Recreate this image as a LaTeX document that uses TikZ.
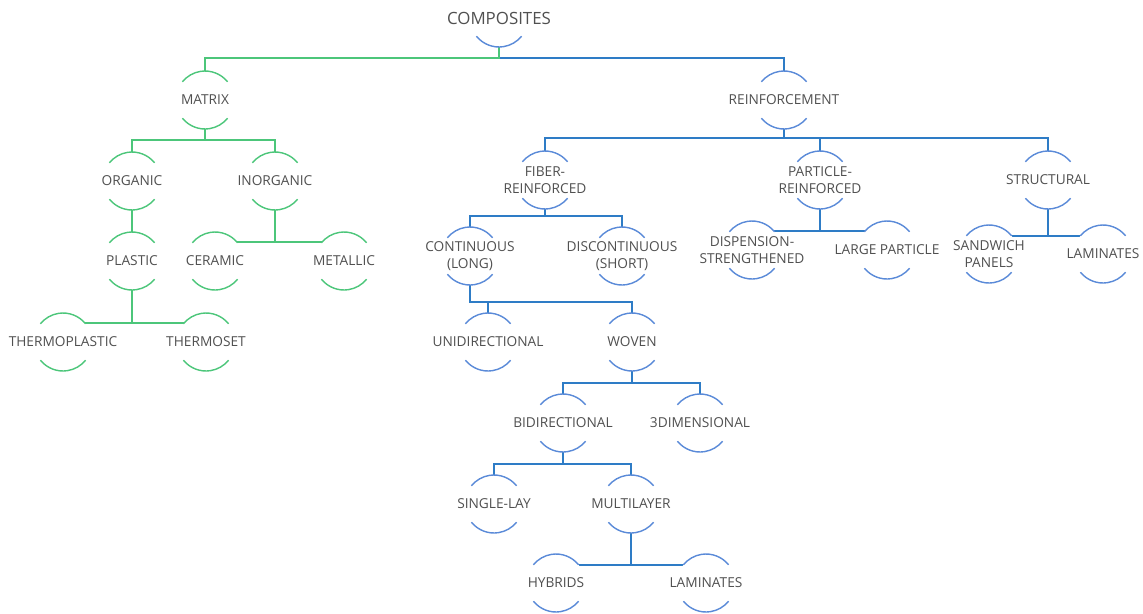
\documentclass[tikz,border=0pt]{standalone}
\usepackage{fontspec}
\setmainfont{Open Sans}
\usetikzlibrary{backgrounds}
\definecolor{mgreen}{HTML}{4CC67A}
\definecolor{rblue}{HTML}{2E7CC6}
\definecolor{arcblue}{HTML}{5A8AD8}
\definecolor{txtgray}{HTML}{505050}
\tikzset{
  bub/.style={circle, minimum size=1.16cm, inner sep=0pt, outer sep=0pt, fill=white},
  every label/.style={text=txtgray, font=\fontsize{7.8}{9.6}\selectfont, align=center, inner sep=0pt},
  gline/.style={draw=mgreen, line width=0.8pt},
  bline/.style={draw=rblue, line width=0.8pt},
  garc/.style={mgreen, line width=0.8pt},
  barc/.style={arcblue, line width=0.8pt},
}
\begin{document}
\begin{tikzpicture}[x=0.02cm, y=-0.02cm]
  \useasboundingbox (0,0) rectangle (1143,613);
  % root
  \node[bub, label={[font=\fontsize{9.6}{11}\selectfont]center:COMPOSITES}] (comp) at (499,18) {};
  % matrix side
  \node[bub, label=center:MATRIX] (matrix) at (205,100) {};
  \node[bub, label=center:ORGANIC] (organic) at (132,181) {};
  \node[bub, label=center:INORGANIC] (inorganic) at (275,181) {};
  \node[bub, label=center:PLASTIC] (plastic) at (132,261) {};
  \node[bub, label=center:CERAMIC] (ceramic) at (215,261) {};
  \node[bub, label=center:METALLIC] (metallic) at (344,261) {};
  \node[bub, label=center:THERMOPLASTIC] (thermoplastic) at (63,342) {};
  \node[bub, label=center:THERMOSET] (thermoset) at (206,342) {};
  % reinforcement side
  \node[bub, label=center:REINFORCEMENT] (reinf) at (784,100) {};
  \node[bub, label={center:FIBER-\\REINFORCED}] (fiber) at (545,180) {};
  \node[bub, label={center:PARTICLE-\\REINFORCED}] (particle) at (820,180) {};
  \node[bub, label=center:STRUCTURAL] (structural) at (1048,180) {};
  \node[bub, label={center:CONTINUOUS\\(LONG)}] (cont) at (470,256) {};
  \node[bub, label={center:DISCONTINUOUS\\(SHORT)}] (discont) at (622,256) {};
  \node[bub, label=center:UNIDIRECTIONAL] (unidir) at (488,342) {};
  \node[bub, label=center:WOVEN] (woven) at (632,342) {};
  \node[bub, label=center:BIDIRECTIONAL] (bidir) at (563,423) {};
  \node[bub, label=center:3DIMENSIONAL] (threedim) at (700,423) {};
  \node[bub, label=center:SINGLE-LAY] (single) at (494,504) {};
  \node[bub, label=center:MULTILAYER] (multi) at (631,504) {};
  \node[bub, label=center:HYBRIDS] (hybrids) at (556,583) {};
  \node[bub, label=center:LAMINATES] (laminatesb) at (706,583) {};
  \node[bub, label={center:DISPENSION-\\STRENGTHENED}] (dispension) at (752,250) {};
  \node[bub, label=center:LARGE PARTICLE] (largepart) at (887,250) {};
  \node[bub, label={center:SANDWICH\\PANELS}] (sandwich) at (989,254) {};
  \node[bub, label=center:LAMINATES] (laminatesa) at (1103,254) {};
  % arcs
  \draw[barc] (comp.219) arc[start angle=219, end angle=321, radius=0.58cm];
  \foreach \n in {matrix,organic,inorganic,plastic,ceramic,metallic,thermoplastic,thermoset} {
    \draw[garc] (\n.39) arc[start angle=39, end angle=141, radius=0.58cm];
    \draw[garc] (\n.219) arc[start angle=219, end angle=321, radius=0.58cm];
  }
  \foreach \n in {reinf,fiber,particle,structural,cont,discont,unidir,woven,bidir,threedim,
                  single,multi,hybrids,laminatesb,dispension,largepart,sandwich,laminatesa} {
    \draw[barc] (\n.39) arc[start angle=39, end angle=141, radius=0.58cm];
    \draw[barc] (\n.219) arc[start angle=219, end angle=321, radius=0.58cm];
  }
  % connectors
  \begin{scope}[on background layer]
    \draw[bline] (comp) -- ++(0,40) -| (reinf);
    \draw[bline] (reinf) -- ++(0,38) -| (fiber);
    \draw[bline] (reinf) -- ++(0,38) -| (particle);
    \draw[bline] (reinf) -- ++(0,38) -| (structural);
    \draw[bline] (fiber) -- ++(0,36) -| (cont);
    \draw[bline] (fiber) -- ++(0,36) -| (discont);
    \draw[bline] (cont) -- ++(0,46) -| (unidir);
    \draw[bline] (cont) -- ++(0,46) -| (woven);
    \draw[bline] (woven) -- ++(0,41) -| (bidir);
    \draw[bline] (woven) -- ++(0,41) -| (threedim);
    \draw[bline] (bidir) -- ++(0,41) -| (single);
    \draw[bline] (bidir) -- ++(0,41) -| (multi);
    \draw[bline] (multi) -- ++(0,61) -| (hybrids);
    \draw[bline] (multi) -- ++(0,61) -| (laminatesb);
    \draw[bline] (particle) -- ++(0,51) -| (dispension);
    \draw[bline] (particle) -- ++(0,51) -| (largepart);
    \draw[bline] (structural) -- ++(0,56) -| (sandwich);
    \draw[bline] (structural) -- ++(0,56) -| (laminatesa);
    \draw[gline] (comp) -- ++(0,40) -| (matrix);
    \draw[gline] (matrix) -- ++(0,40) -| (organic);
    \draw[gline] (matrix) -- ++(0,40) -| (inorganic);
    \draw[gline] (organic) -- (plastic);
    \draw[gline] (inorganic) -- ++(0,61) -| (ceramic);
    \draw[gline] (inorganic) -- ++(0,61) -| (metallic);
    \draw[gline] (plastic) -- ++(0,62) -| (thermoplastic);
    \draw[gline] (plastic) -- ++(0,62) -| (thermoset);
  \end{scope}
\end{tikzpicture}
\end{document}
